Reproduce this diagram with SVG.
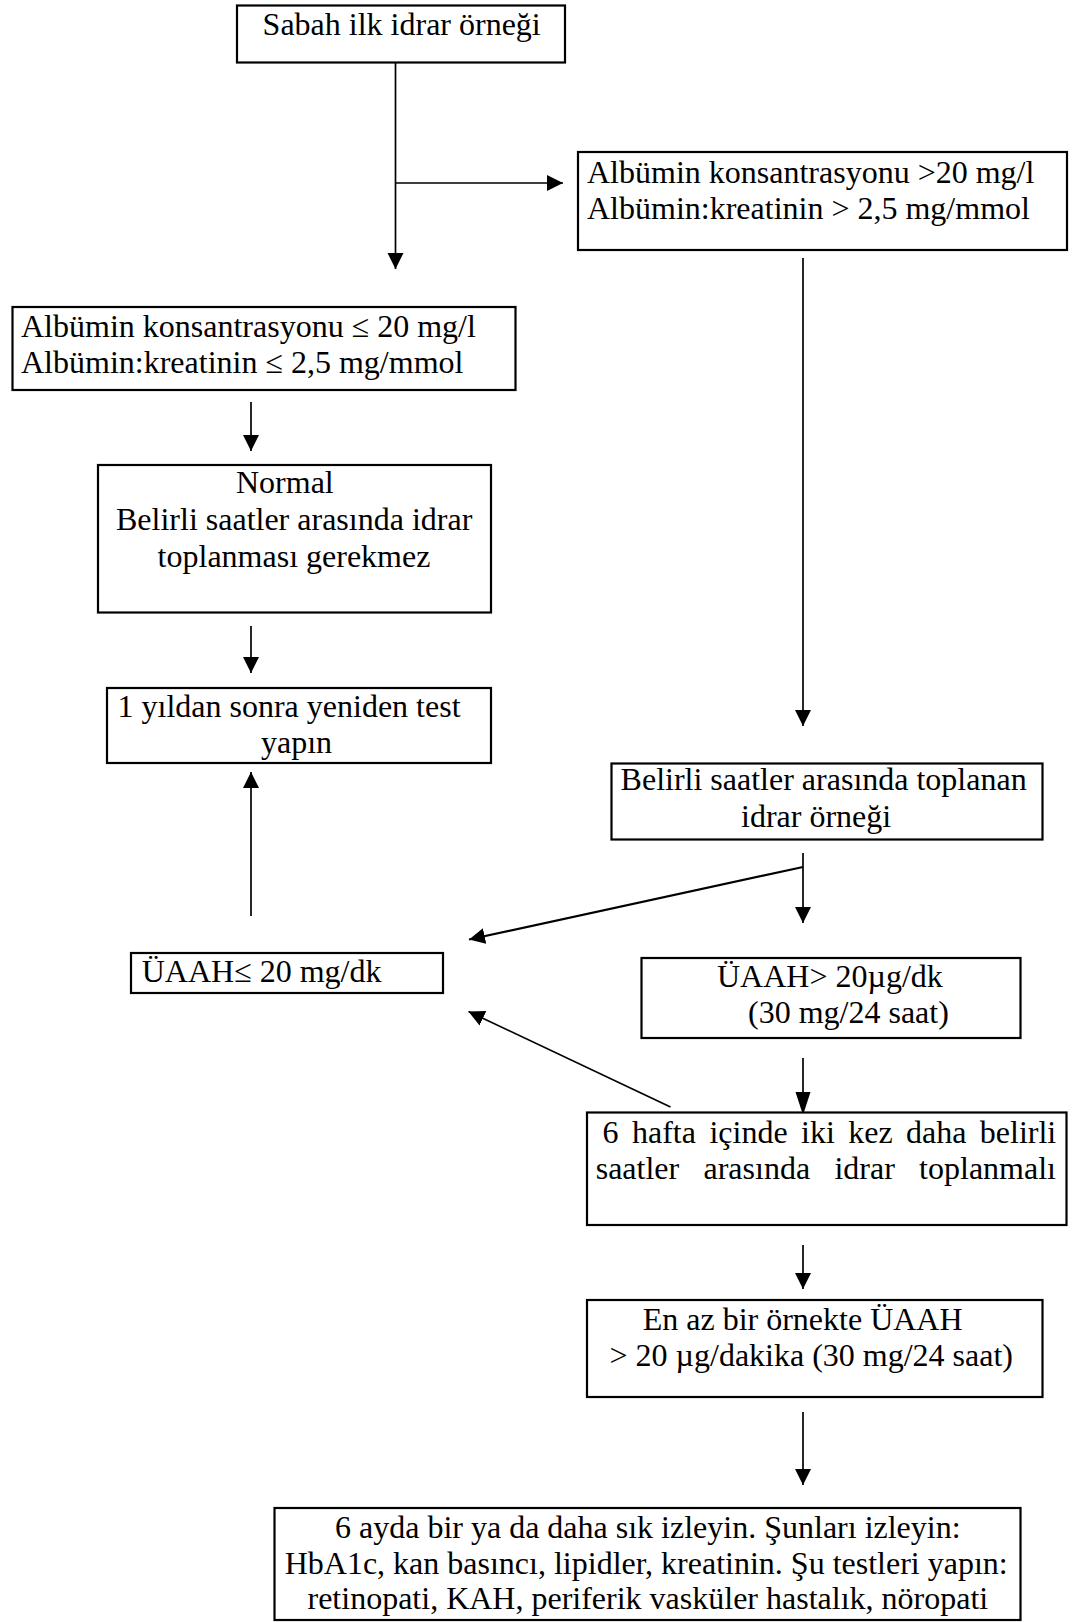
<svg xmlns="http://www.w3.org/2000/svg" width="1085" height="1622" viewBox="0 0 1085 1622">
<style>
.box{fill:#fff;stroke:#000;stroke-width:2.2}
.t{font-family:"Liberation Serif","Times New Roman",serif;font-size:32px;fill:#000}
.c{stroke:#000;stroke-width:1.7;fill:none}
</style>
<defs>
<marker id="ah" markerUnits="userSpaceOnUse" markerWidth="17" markerHeight="17" refX="16" refY="8" orient="auto" viewBox="0 0 17 17">
<path d="M0,0 L16,8 L0,16 z" fill="#000"/>
</marker>
<marker id="ah2" markerUnits="userSpaceOnUse" markerWidth="24" markerHeight="17" refX="23" refY="8" orient="auto" viewBox="0 0 24 17">
<path d="M0,0.5 L23,8 L0,15.5 z" fill="#000"/>
</marker>
</defs>
<rect width="1085" height="1622" fill="#fff"/>
<g id="connectors">
<line class="c" x1="395.5" y1="53" x2="395.5" y2="269" marker-end="url(#ah)"/>
<line class="c" x1="395.5" y1="183" x2="563" y2="183" marker-end="url(#ah)"/>
<line class="c" x1="803" y1="258" x2="803" y2="726" marker-end="url(#ah)"/>
<line class="c" x1="251" y1="402" x2="251" y2="451" marker-end="url(#ah)"/>
<line class="c" x1="251" y1="626" x2="251" y2="673" marker-end="url(#ah)"/>
<line class="c" x1="251" y1="916" x2="251" y2="772" marker-end="url(#ah)"/>
<line class="c" x1="803" y1="853" x2="803" y2="923" marker-end="url(#ah)"/>
<line class="c" style="stroke-width:2.2" x1="803" y1="867" x2="469" y2="939.5" marker-end="url(#ah)"/>
<line class="c" x1="670.5" y1="1107" x2="468.5" y2="1011.5" marker-end="url(#ah)"/>
<line class="c" x1="803" y1="1058" x2="803" y2="1115" marker-end="url(#ah2)"/>
<line class="c" x1="803" y1="1245" x2="803" y2="1289" marker-end="url(#ah)"/>
<line class="c" x1="803" y1="1412" x2="803" y2="1485" marker-end="url(#ah)"/>
</g>
<g id="n_sabah">
<rect class="box" x="237" y="5.5" width="328" height="57"/>
<text class="t" x="262.6" y="35">Sabah ilk idrar örneği</text>
</g>
<g id="n_alb_high">
<rect class="box" x="578" y="152" width="489" height="98"/>
<text class="t" x="587" y="183">Albümin konsantrasyonu &gt;20 mg/l</text>
<text class="t" x="587" y="219">Albümin:kreatinin &gt; 2,5 mg/mmol</text>
</g>
<g id="n_alb_low">
<rect class="box" x="12.5" y="307" width="503" height="83"/>
<text class="t" x="21" y="337">Albümin konsantrasyonu ≤ 20 mg/l</text>
<text class="t" x="21" y="373">Albümin:kreatinin ≤ 2,5 mg/mmol</text>
</g>
<g id="n_normal">
<rect class="box" x="98" y="465" width="393" height="147.5"/>
<text class="t" x="236" y="493">Normal</text>
<text class="t" x="116" y="530">Belirli saatler arasında idrar</text>
<text class="t" x="157.6" y="567">toplanması gerekmez</text>
</g>
<g id="n_retest">
<rect class="box" x="107" y="688" width="384" height="75"/>
<text class="t" x="117.5" y="717">1 yıldan sonra yeniden test</text>
<text class="t" x="261" y="753">yapın</text>
</g>
<g id="n_timed">
<rect class="box" x="611.5" y="763.5" width="431" height="76"/>
<text class="t" x="620.6" y="790">Belirli saatler arasında toplanan</text>
<text class="t" x="741" y="827">idrar örneği</text>
</g>
<g id="n_uaah_low">
<rect class="box" x="131" y="953" width="312" height="40"/>
<text class="t" x="141.7" y="982">ÜAAH≤ 20 mg/dk</text>
</g>
<g id="n_uaah_high">
<rect class="box" x="641.5" y="958" width="379" height="80"/>
<text class="t" x="717" y="987">ÜAAH&gt; 20µg/dk</text>
<text class="t" x="748" y="1023">(30 mg/24 saat)</text>
</g>
<g id="n_repeat">
<rect class="box" x="587" y="1112.5" width="479.5" height="112.5"/>
<text class="t" y="1143"><tspan x="602.6">6</tspan><tspan x="632">hafta</tspan><tspan x="709.4">içinde</tspan><tspan x="801">iki</tspan><tspan x="848.2">kez</tspan><tspan x="906">daha</tspan><tspan x="979.8">belirli</tspan></text>
<text class="t" y="1179"><tspan x="595.7">saatler</tspan><tspan x="703.5">arasında</tspan><tspan x="834.4">idrar</tspan><tspan x="919.1">toplanmalı</tspan></text>
</g>
<g id="n_confirmed">
<rect class="box" x="587" y="1300" width="455.5" height="97"/>
<text class="t" x="642.7" y="1330">En az bir örnekte ÜAAH</text>
<text class="t" x="609.5" y="1366">&gt; 20 µg/dakika (30 mg/24 saat)</text>
</g>
<g id="n_monitor">
<rect class="box" x="274.5" y="1508" width="746" height="112"/>
<text class="t" x="335" y="1538">6 ayda bir ya da daha sık izleyin. Şunları izleyin:</text>
<text class="t" x="284.7" y="1573.5">HbA1c, kan basıncı, lipidler, kreatinin. Şu testleri yapın:</text>
<text class="t" x="307.5" y="1608.5">retinopati, KAH, periferik vasküler hastalık, nöropati</text>
</g>
</svg>
